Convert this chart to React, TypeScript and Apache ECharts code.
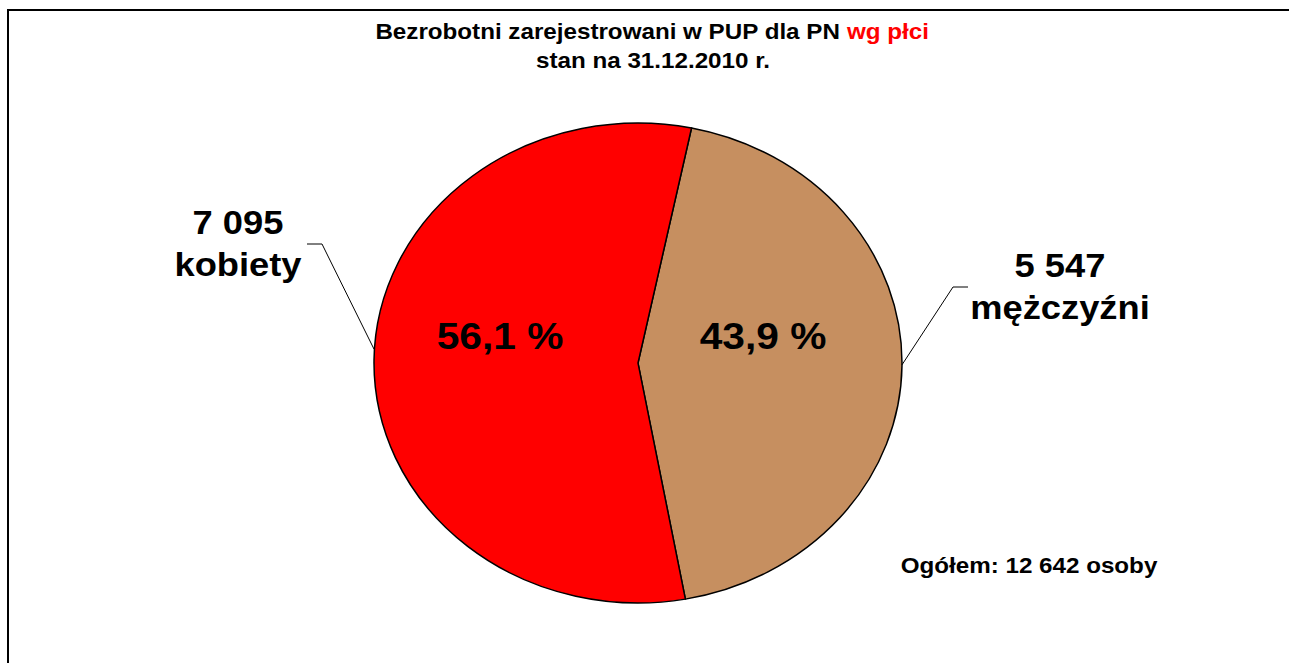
import React, { useEffect, useRef } from "react";
import * as echarts from "echarts";

const categories: string[] = ["mężczyźni", "kobiety"];
const values: number[] = [5547, 7095];
const colors: string[] = ["#C68F60", "#FF0000"];
const titleLine1 = "Bezrobotni zarejestrowani w PUP dla PN ";
const titleAccent = "wg płci";
const titleLine2 = "stan na 31.12.2010 r.";
const totalPrefix = "Ogółem: ";
const totalSuffix = " osoby";

// layout
const CX = 638;
const CY = 363;
const RX = 264;
const RY = 240;
const START_DEG = 11.7; // clockwise from 12 o'clock
const SX = 1.1; // horizontal text stretch
const FONT = '"Liberation Sans", Arial, sans-serif';
const PCT_POS: number[][] = [
  [763, 336],
  [500, 336],
];
const OUT_LABEL_POS: number[][] = [
  [1060, 287],
  [238, 244],
];
const LINE_START_DY: number[] = [-1, -11];
const ELBOWS: number[][][] = [
  [
    [953, 287],
    [968, 287],
  ],
  [
    [322, 244],
    [307, 244],
  ],
];

const total = values.reduce((a, b) => a + b, 0);
const fmt = (n: number) => String(n).replace(/\B(?=(\d{3})+(?!\d))/g, " ");
const pct = (v: number) => ((v / total) * 100).toFixed(1).replace(".", ",") + " %";

export default function App() {
  const ref = useRef<HTMLDivElement>(null);
  useEffect(() => {
    document.body.style.margin = "0";
    const chart = echarts.init(ref.current!, null, { renderer: "svg" });
    const cum: number[] = [];
    let acc = 0;
    values.forEach((v) => {
      cum.push(acc);
      acc += v;
    });
    const option: any = {
      animation: false,
      backgroundColor: "#fff",
      graphic: [
        {
          type: "rect",
          shape: { x: 8, y: 10, width: 1400, height: 800 },
          style: { fill: "none", stroke: "#000", lineWidth: 2 },
          z: 0,
        },
        {
          type: "text",
          x: 652,
          y: 31,
          scaleX: SX,
          style: {
            text: titleLine1 + "{r|" + titleAccent + "}",
            font: `bold 22px ${FONT}`,
            fill: "#000",
            align: "center",
            verticalAlign: "middle",
            rich: {
              r: { fill: "#FF0000", font: `bold 22px ${FONT}` },
            },
          },
        },
        {
          type: "text",
          x: 653,
          y: 60,
          scaleX: SX,
          style: {
            text: titleLine2,
            font: `bold 22px ${FONT}`,
            fill: "#000",
            align: "center",
            verticalAlign: "middle",
          },
        },
        {
          type: "text",
          x: 1029,
          y: 565,
          scaleX: SX,
          style: {
            text: totalPrefix + fmt(total) + totalSuffix,
            font: `bold 22px ${FONT}`,
            fill: "#000",
            align: "center",
            verticalAlign: "middle",
          },
        },
      ],
      series: [
        {
          type: "custom",
          coordinateSystem: "none",
          data: values.map((v, i) => ({ name: categories[i], value: v })),
          renderItem: (params: any) => {
            const i = params.dataIndex;
            const v = values[i];
            const t0 = START_DEG + (cum[i] / total) * 360;
            const t1 = START_DEG + ((cum[i] + v) / total) * 360;
            const tm = (t0 + t1) / 2;
            const toRad = (d: number) => ((d - 90) * Math.PI) / 180;
            const edgeX = CX + RX * Math.sin((tm * Math.PI) / 180);
            const edgeY = CY - RY * Math.cos((tm * Math.PI) / 180) + LINE_START_DY[i];
            return {
              type: "group",
              children: [
                {
                  type: "sector",
                  x: CX,
                  y: CY,
                  scaleY: RY / RX,
                  shape: {
                    cx: 0,
                    cy: 0,
                    r: RX,
                    r0: 0,
                    startAngle: toRad(t0),
                    endAngle: toRad(t1),
                    clockwise: true,
                  },
                  style: {
                    fill: colors[i],
                    stroke: "#000",
                    lineWidth: 1.5,
                    strokeNoScale: true,
                  },
                },
                {
                  type: "text",
                  x: PCT_POS[i][0],
                  y: PCT_POS[i][1],
                  scaleX: SX,
                  style: {
                    text: pct(v),
                    font: `bold 37px ${FONT}`,
                    fill: "#000",
                    align: "center",
                    verticalAlign: "middle",
                  },
                },
                {
                  type: "polyline",
                  shape: {
                    points: [[edgeX, edgeY], ELBOWS[i][0], ELBOWS[i][1]],
                  },
                  style: { stroke: "#000", lineWidth: 1, fill: "none" },
                },
                {
                  type: "text",
                  x: OUT_LABEL_POS[i][0],
                  y: OUT_LABEL_POS[i][1],
                  scaleX: SX,
                  style: {
                    text: fmt(v) + "\n" + categories[i],
                    font: `bold 33px ${FONT}`,
                    lineHeight: 42,
                    fill: "#000",
                    align: "center",
                    verticalAlign: "middle",
                  },
                },
              ],
            };
          },
        },
      ],
    };
    chart.setOption(option);
    return () => chart.dispose();
  }, []);
  return <div ref={ref} style={{ width: 1289, height: 663 }} />;
}
